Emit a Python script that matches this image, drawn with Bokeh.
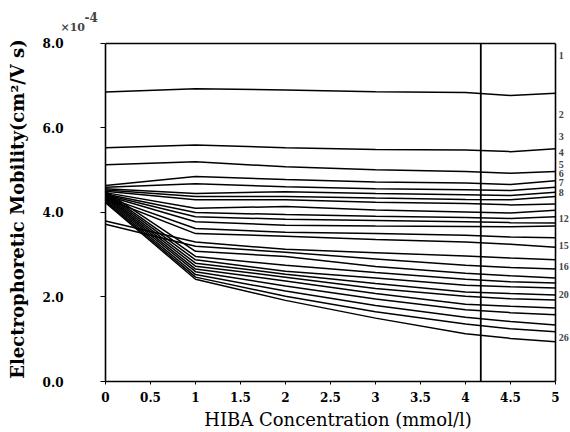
from bokeh.plotting import figure
from bokeh.models import Range1d, Label, FixedTicker, Title
from bokeh.embed import file_html
from bokeh.resources import INLINE

# HIBA concentration (mmol/l)
conc = [0, 1, 2, 3, 4, 4.5, 5]

# Electrophoretic mobility (x 1e-4 cm^2/V s) of each component
m01 = [6.85, 6.93, 6.90, 6.86, 6.84, 6.77, 6.82]
m02 = [5.53, 5.60, 5.53, 5.49, 5.48, 5.44, 5.51]
m03 = [5.13, 5.20, 5.08, 5.01, 4.97, 4.93, 4.97]
m04 = [4.64, 4.85, 4.78, 4.72, 4.70, 4.66, 4.75]
m05 = [4.60, 4.68, 4.61, 4.56, 4.54, 4.52, 4.60]
m06 = [4.56, 4.45, 4.49, 4.45, 4.42, 4.40, 4.48]
m07 = [4.53, 4.38, 4.38, 4.34, 4.31, 4.30, 4.38]
m08 = [4.50, 4.30, 4.30, 4.24, 4.21, 4.18, 4.20]
m09 = [4.47, 4.10, 4.14, 4.06, 4.01, 3.99, 4.05]
m10 = [4.44, 4.00, 3.95, 3.91, 3.88, 3.86, 3.90]
m11 = [4.42, 3.90, 3.84, 3.81, 3.78, 3.76, 3.75]
m12 = [4.40, 3.78, 3.70, 3.68, 3.67, 3.66, 3.68]
m13 = [4.37, 3.62, 3.53, 3.50, 3.46, 3.42, 3.40]
m14 = [4.33, 3.50, 3.44, 3.36, 3.30, 3.25, 3.18]
m15 = [3.80, 3.30, 3.13, 3.05, 2.97, 2.92, 2.88]
m16 = [3.72, 3.20, 3.06, 2.90, 2.75, 2.70, 2.66]
m17 = [4.50, 3.08, 2.96, 2.72, 2.56, 2.50, 2.45]
m18 = [4.47, 2.96, 2.75, 2.58, 2.42, 2.36, 2.33]
m19 = [4.44, 2.88, 2.61, 2.45, 2.28, 2.24, 2.21]
m20 = [4.41, 2.80, 2.54, 2.32, 2.12, 2.08, 2.05]
m21 = [4.38, 2.73, 2.47, 2.20, 2.02, 1.96, 1.93]
m22 = [4.35, 2.66, 2.38, 2.08, 1.83, 1.78, 1.74]
m23 = [4.32, 2.60, 2.26, 1.95, 1.70, 1.63, 1.58]
m24 = [4.29, 2.53, 2.14, 1.80, 1.52, 1.42, 1.34]
m25 = [4.26, 2.47, 2.02, 1.65, 1.36, 1.25, 1.18]
m26 = [4.23, 2.42, 1.92, 1.50, 1.13, 1.02, 0.94]

series = [m01, m02, m03, m04, m05, m06, m07, m08, m09, m10, m11, m12, m13,
          m14, m15, m16, m17, m18, m19, m20, m21, m22, m23, m24, m25, m26]

# right-hand peak numbers and the mobility level where each is printed
peak_labels = ["1", "2", "3", "4", "5", "6", "7", "8", "12", "15", "16", "20", "26"]
peak_label_y = [7.72, 6.33, 5.79, 5.41, 5.13, 4.92, 4.71, 4.47, 3.86, 3.22, 2.73, 2.05, 1.04]
peak_label_x = 5.035

x_ticks = [0, 0.5, 1, 1.5, 2, 2.5, 3, 3.5, 4, 4.5, 5]
x_tick_text = ["0", "0.5", "1", "1.5", "2", "2.5", "3", "3.5", "4", "4.5", "5"]
y_ticks = [0, 2, 4, 6, 8]
y_tick_text = ["0.0", "2.0", "4.0", "6.0", "8.0"]

x_max = 5.0
y_max = 8.0
marker_x = 4.17

SERIF = "DejaVu Serif"

p = figure(width=570, height=432, output_backend="svg", toolbar_location=None,
           title_location=None,
           x_range=Range1d(0, 5.1667), y_range=Range1d(0, 8.165),
           min_border_left=105, min_border_right=0, min_border_top=36,
           min_border_bottom=49)
p.outline_line_color = None
p.xgrid.visible = False
p.ygrid.visible = False
p.background_fill_color = "white"

for s in series:
    p.line(conc, s, line_color="black", line_width=1.5)

# frame pieces and marker line
p.line([0, x_max], [y_max, y_max], line_color="black", line_width=1.5)
p.line([x_max, x_max], [0, y_max], line_color="black", line_width=1.6)
p.line([marker_x, marker_x], [0, y_max], line_color="black", line_width=1.8)

for t, yv in zip(peak_labels, peak_label_y):
    p.add_layout(Label(x=peak_label_x, y=yv, text=t,
                       text_font="Liberation Serif",
                       text_font_style="bold", text_font_size="10px",
                       text_baseline="middle", text_align="left"))

# axes
xa = p.xaxis[0]
xa.bounds = (0, x_max)
xa.ticker = FixedTicker(ticks=x_ticks)
xa.major_label_overrides = {t: s for t, s in zip(x_ticks, x_tick_text)}
xa.minor_tick_line_color = None
xa.major_tick_out = 3
xa.major_tick_in = 0
xa.major_label_standoff = 7
xa.axis_line_width = 1.6
xa.major_label_text_font = SERIF
xa.major_label_text_font_style = "bold"
xa.major_label_text_font_size = "12px"
xa.major_label_text_color = "black"
xa.axis_label = "HIBA Concentration (mmol/l)"
xa.axis_label_text_font = SERIF
xa.axis_label_text_font_style = "normal"
xa.axis_label_text_font_size = "18px"
xa.axis_label_text_color = "black"
xa.axis_label_standoff = 4

ya = p.yaxis[0]
ya.bounds = (0, y_max)
ya.ticker = FixedTicker(ticks=y_ticks)
ya.major_label_overrides = {t: s for t, s in zip(y_ticks, y_tick_text)}
ya.minor_tick_line_color = None
ya.major_tick_out = 5
ya.major_tick_in = 0
ya.major_label_standoff = 37
ya.axis_line_width = 1.6
ya.major_label_text_font = SERIF
ya.major_label_text_font_style = "bold"
ya.major_label_text_font_size = "12px"
ya.major_label_text_color = "black"
ya.axis_label = "Electrophoretic Mobility(cm\u00b2/V s)"
ya.axis_label_text_font = SERIF
ya.axis_label_text_font_style = "bold"
ya.axis_label_text_font_size = "18px"
ya.axis_label_text_color = "black"
ya.axis_label_standoff = 12

# axis multiplier written above the y axis
p.add_layout(Title(text="\u00d710", align="left", offset=-45, standoff=6,
                   text_font=SERIF, text_font_style="bold",
                   text_font_size="11px"), "above")
p.add_layout(Title(text="-4", align="left", offset=-21, standoff=-13,
                   text_font=SERIF, text_font_style="bold",
                   text_font_size="12px"), "above")

open("out.html", "w").write(file_html(p, INLINE))
